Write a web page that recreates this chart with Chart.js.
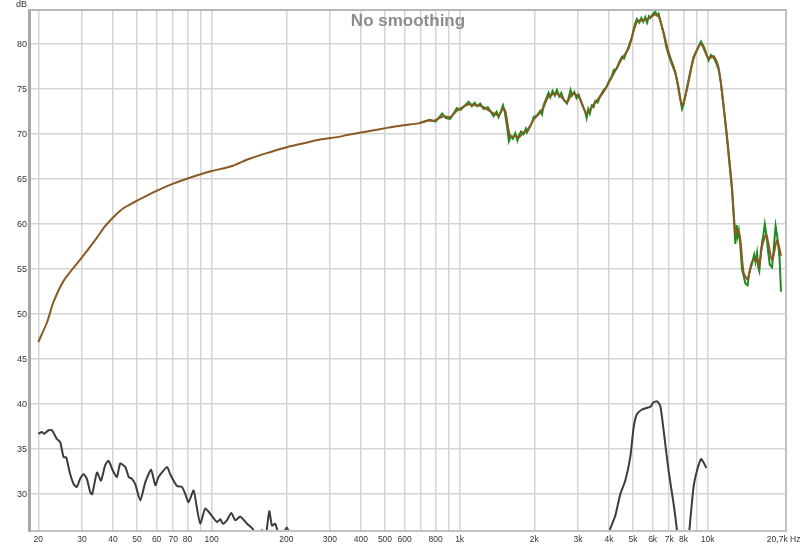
<!DOCTYPE html>
<html><head><meta charset="utf-8">
<script src="https://cdn.jsdelivr.net/npm/chart.js@4.4.1/dist/chart.umd.min.js"></script>
<style>html,body{margin:0;padding:0;background:#fff;overflow:hidden;} #wrap{width:800px;height:547px;}</style>
</head><body><div id="wrap"><canvas id="c" width="800" height="547"></canvas></div>
<script>
const titleText = 'No smoothing';
const yUnit = 'dB';

// Smoothed response (brown)
const freqMain = [20,21.7,23,25.3,30,34.5,37,39.6,42,44.2,47,50,60,70,87,100,119,143,172,204,228,274,325,351,423,509,594,683,739,785,861,916,975,1087,1175,1249,1371,1436,1496,1528,1600,1676,1729,1811,1869,1986,2114,2180,2284,2468,2710,2838,3018,3250,3468,3806,4178,4514,4799,5188,5605,5872,6152,6342,6644,6958,7406,7882,8256,8776,9398,10090,10568,11068,11596,11968,12538,12932,13212,13546,13964,14488,15094,15814,16156,16558,17240,18176,19040,19762];
const splMain = [46.9,49.1,51.3,53.7,56.3,58.5,59.7,60.6,61.3,61.8,62.2,62.6,63.7,64.5,65.4,65.9,66.4,67.3,68.0,68.6,68.9,69.4,69.7,69.9,70.3,70.7,71.0,71.2,71.5,71.5,72.0,71.9,72.6,73.3,73.2,73.0,72.3,72.1,72.8,72.6,69.7,69.8,69.6,70.2,70.4,71.6,72.4,73.0,74.2,74.5,73.6,74.5,74.2,72.3,73.3,74.7,76.7,78.4,79.5,82.5,82.7,83.0,83.3,83.1,81.3,79.1,76.9,73.2,75.0,78.4,80.0,78.4,78.7,77.4,73.2,69.8,64.1,59.0,59.4,58.3,54.6,53.9,55.8,56.2,55.4,57.5,58.8,56.0,58.2,56.5];

// Raw response (green), visible where it departs from the brown curve
const freqRaw = [700,760,800,850,880,916,950,975,1010,1050,1087,1120,1150,1175,1210,1249,1300,1340,1371,1410,1436,1470,1496,1520,1550,1580,1610,1640,1676,1710,1729,1770,1811,1850,1869,1920,1960,1986,2050,2114,2150,2180,2230,2284,2320,2370,2420,2468,2520,2570,2630,2710,2760,2800,2838,2900,2960,3018,3080,3150,3200,3250,3300,3350,3410,3468,3524,3600,3700,3806,3900,4000,4100,4178,4300,4400,4514,4600,4700,4799,4950,5100,5188,5300,5400,5500,5605,5700,5800,5872,6000,6152,6250,6342,6450,6644,6800,6958,7150,7406,7600,7882,8000,8256,8500,8776,9100,9398,9700,10090,10300,10568,10800,11068,11300,11596,11968,12538,12800,12932,13100,13212,13350,13546,13750,13964,14200,14488,14700,15094,15400,15600,15814,16000,16156,16400,16558,16800,17000,17240,17500,17800,18176,18500,18800,19040,19300,19500,19762];
const splRaw = [71.3,71.6,71.4,72.3,71.8,71.7,72.4,72.9,72.7,73.2,73.6,73.1,73.5,73.1,73.4,72.8,73.0,72.4,72.0,72.5,71.9,72.6,73.2,72.5,71.0,69.2,69.8,69.5,70.1,69.3,69.8,70.3,70.0,70.6,70.2,70.8,71.3,71.9,72.1,72.6,72.2,73.2,73.9,74.6,74.1,74.8,74.3,74.9,74.2,74.6,73.8,73.4,74.2,74.9,74.3,74.7,74.0,74.4,73.7,73.0,72.6,71.8,72.8,72.3,73.2,73.0,73.7,73.5,74.3,74.9,75.2,75.9,76.4,77.1,77.3,78.0,78.6,78.4,79.1,79.7,80.8,82.3,82.8,82.4,82.9,82.5,83.0,82.4,83.1,82.9,83.3,83.6,83.2,83.4,82.6,81.2,79.8,78.8,77.9,76.8,75.5,72.8,73.3,75.2,76.9,78.6,79.5,80.3,79.6,78.2,78.8,78.5,78.0,77.2,75.8,73.0,69.5,63.8,60.0,57.8,59.9,58.7,59.3,57.6,55.0,54.3,53.4,53.2,54.5,55.6,56.6,55.8,56.8,55.2,54.8,57.0,57.9,58.9,60.0,58.9,57.2,55.5,55.2,57.5,59.8,58.8,57.5,56.2,52.5];

// Distortion curve (dark grey); null marks the gap where it is below the axis
const freqDist = [20,20.7,21.1,22.0,22.7,23.8,24.5,25.3,25.9,26.9,27.8,28.6,29.5,30.5,31.4,32.4,33.0,34.5,35.8,37.2,38.4,40.0,41.5,42.8,44.9,46.3,47.7,49.2,51.6,54.0,57.0,59.3,61.1,66.1,68.1,72.5,75.9,78.3,80.7,84.6,87.3,90.0,94.3,100,105.1,108.4,111.1,115.3,120.0,124.6,130.5,138.9,146.8,151.4,159.6,164.6,170.8,175.1,180.6,189,201,209,225,1000,3850,4024,4242,4444,4656,4876,5030,5188,5436,5695,5872,6054,6249,6443,6644,6958,7292,7526,7750,8200,8434,8776,9058,9398,9632,9876];
const splDist = [36.7,36.9,36.7,37.1,37.1,36.1,35.8,34.1,34.1,32.2,31.1,30.8,31.7,32.2,31.7,30.2,30.0,32.4,31.5,33.2,33.7,32.6,31.9,33.4,33.0,31.9,31.7,31.1,29.3,31.3,32.7,31.0,31.9,33.0,32.2,30.9,30.8,30.0,29.1,30.4,28.4,26.7,28.4,27.6,26.9,27.2,26.7,27.1,27.9,27.1,27.5,26.7,26.1,25.0,26.0,25.0,28.1,26.5,26.7,25.0,26.3,25.0,22,null,22,25.9,27.6,30.0,31.5,34.1,37.4,38.9,39.4,39.6,39.7,40.2,40.3,39.8,37.1,32.6,28.9,25.9,22,22,25.9,30.8,32.6,33.9,33.5,32.9];

const xTickValues = [20,30,40,50,60,70,80,90,100,200,300,400,500,600,700,800,900,1000,2000,3000,4000,5000,6000,7000,8000,9000,10000,20700];
const xTickLabels = ['20','30','40','50','60','70','80','','100','200','300','400','500','600','','800','','1k','2k','3k','4k','5k','6k','7k','8k','','10k','20,7k Hz  '];
const yTickValues = [30,35,40,45,50,55,60,65,70,75,80];

const toPts = (fs, vs) => fs.map((f, i) => ({x: f, y: vs[i]}));
const FONT = '"Liberation Sans", Arial, sans-serif';

const framePlugin = {
  id: 'framePlugin',
  beforeDatasetsDraw(chart) {
    const ctx = chart.ctx, a = chart.chartArea;
    ctx.save();
    ctx.font = 'bold 17px ' + FONT;
    ctx.fillStyle = '#8c8c8c';
    ctx.textAlign = 'center';
    ctx.textBaseline = 'middle';
    ctx.fillText(titleText, (a.left + a.right) / 2, a.top + 11);
    ctx.restore();
  },
  afterDraw(chart) {
    const ctx = chart.ctx, a = chart.chartArea;
    ctx.save();
    ctx.strokeStyle = '#c2c2c2';
    ctx.lineWidth = 2;
    ctx.strokeRect(a.left, a.top, a.right - a.left, a.bottom - a.top);
    ctx.fillStyle = '#a8a8a8';
    ctx.fillRect(a.left - 2, a.top - 1, 3, a.bottom - a.top + 2);
    ctx.fillStyle = '#b8b8b8';
    ctx.fillRect(a.left - 1, a.top - 1, a.right - a.left + 1, 2);
    ctx.font = '9px ' + FONT;
    ctx.fillStyle = '#333';
    ctx.textAlign = 'right';
    ctx.textBaseline = 'middle';
    ctx.fillText(yUnit, a.left - 3, 5);
    ctx.restore();
  }
};

new Chart(document.getElementById('c'), {
  type: 'line',
  data: {
    datasets: [
      {data: toPts(freqMain, splMain), borderColor: '#8b5a22', borderWidth: 2, pointRadius: 0, tension: 0.25, order: 0},
      {data: toPts(freqRaw, splRaw), borderColor: '#1f8a1f', borderWidth: 2, pointRadius: 0, tension: 0, order: 1},
      {data: toPts(freqDist, splDist), borderColor: '#3c3c3c', borderWidth: 2, pointRadius: 0, tension: 0.2, spanGaps: false, order: 2}
    ]
  },
  options: {
    responsive: false,
    animation: false,
    events: [],
    layout: {padding: {left: 0, right: 14, top: 10, bottom: 0}},
    plugins: {legend: {display: false}, tooltip: {enabled: false}, title: {display: false}},
    scales: {
      x: {
        type: 'logarithmic', min: 18.52, max: 20700,
        afterBuildTicks: s => { s.ticks = xTickValues.map(v => ({value: v})); },
        afterFit: s => { s.height = 16; s.paddingLeft = 0; s.paddingRight = 0; },
        ticks: {autoSkip: false, maxRotation: 0, minRotation: 0, padding: 4, color: '#333',
                font: {family: FONT, size: 8.5}, callback: (v, i) => xTickLabels[i]},
        grid: {color: '#d4d4d4', lineWidth: 1.5, drawTicks: false},
        border: {display: false}
      },
      y: {
        type: 'linear', min: 25.9, max: 83.8,
        afterBuildTicks: s => { s.ticks = yTickValues.map(v => ({value: v})); },
        afterFit: s => { s.width = 30; s.paddingTop = 0; s.paddingBottom = 0; },
        ticks: {padding: 3, color: '#333', font: {family: FONT, size: 9}, callback: v => String(v)},
        grid: {color: '#d4d4d4', lineWidth: 1.5, drawTicks: false},
        border: {display: false}
      }
    }
  },
  plugins: [framePlugin]
});
</script></body></html>
